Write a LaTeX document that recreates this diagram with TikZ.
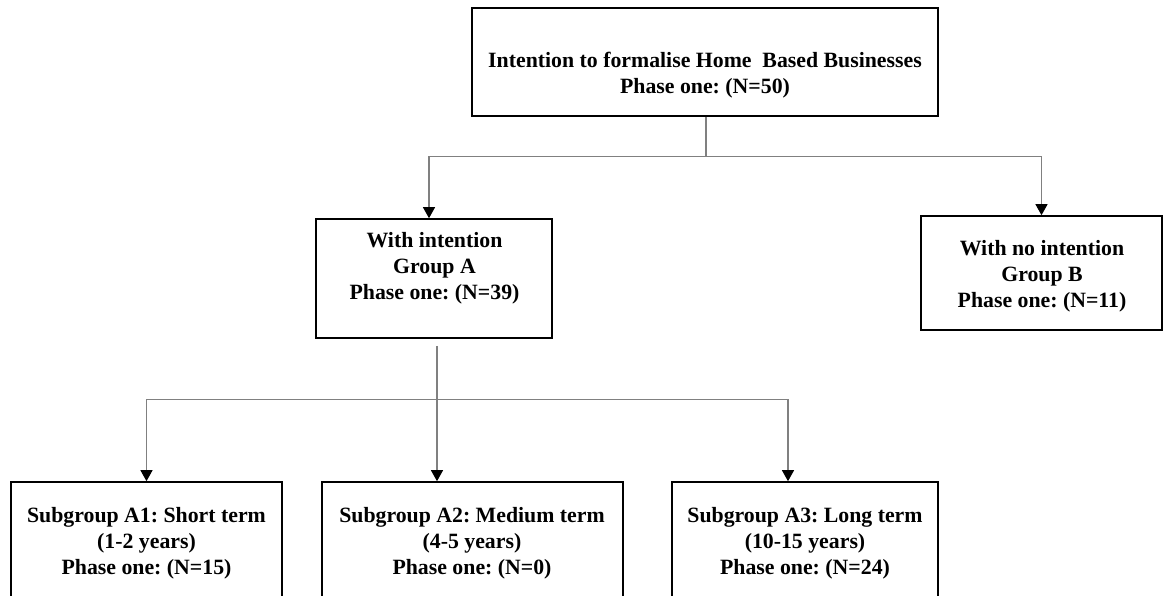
\documentclass[tikz,border=0pt]{standalone}
\usepackage{fontspec}
\setmainfont{Liberation Serif}
\usetikzlibrary{arrows.meta}
\frenchspacing

\tikzset{
  box/.style={draw=black, line width=1.6pt, rectangle, inner sep=0pt},
  label/.style={align=center, inner sep=0pt,
    font=\bfseries\fontsize{21.8}{26}\selectfont},
  link/.style={draw=black!50, line width=1.1pt},
  arrow/.style={link, -{Triangle[width=12pt,length=11pt,color=black]}}
}

\begin{document}
\begin{tikzpicture}[x=1pt, y=-1pt]
  \useasboundingbox (0,0) rectangle (1163,596);
  \clip (0,0) rectangle (1163,596);

  % boxes
  \node[box, minimum width=466pt, minimum height=108pt] (top) at (705,62) {};
  \node[box, minimum width=236pt, minimum height=119pt] (grpA) at (434,278.5) {};
  \node[box, minimum width=241pt, minimum height=114pt] (grpB) at (1041.5,273) {};
  \node[box, minimum width=271pt, minimum height=150pt] (subA1) at (146.5,557) {};
  \node[box, minimum width=301pt, minimum height=150pt] (subA2) at (472.5,557) {};
  \node[box, minimum width=266pt, minimum height=150pt] (subA3) at (805,557) {};

  % texts
  \node[label] (tTop) at (705,75) {Intention to formalise Home\ \ Based Businesses\\Phase one: (N=50)};
  \node[label] (tA) at (434.5,268) {With intention\\Group A\\Phase one: (N=39)};
  \node[label] (tB) at (1042,276) {With no intention\\Group B\\Phase one: (N=11)};
  \node[label] (tA1) at (146.5,543) {Subgroup A1: Short term\\(1-2 years)\\Phase one: (N=15)};
  \node[label] (tA2) at (472,543) {Subgroup A2: Medium term\\(4-5 years)\\Phase one: (N=0)};
  \node[label] (tA3) at (805,543) {Subgroup A3: Long term\\(10-15 years)\\Phase one: (N=24)};

  % first split
  \draw[link] ([xshift=1pt]top.south) -- ++(0,40) coordinate (j1);
  \draw[arrow] (j1) -| ([xshift=-5pt]grpA.north);
  \draw[arrow] (j1) -| (grpB.north);

  % second split
  \coordinate (j2) at ([xshift=3pt,yshift=-7pt]grpA.south);
  \draw[link] (j2) -- ++(0,54) coordinate (j3);
  \draw[arrow] (j3) -| (subA1.north);
  \draw[arrow] (j3) -- (j3 |- subA2.north);
  \draw[arrow] (j3) -| ([xshift=-17pt]subA3.north);
\end{tikzpicture}
\end{document}
